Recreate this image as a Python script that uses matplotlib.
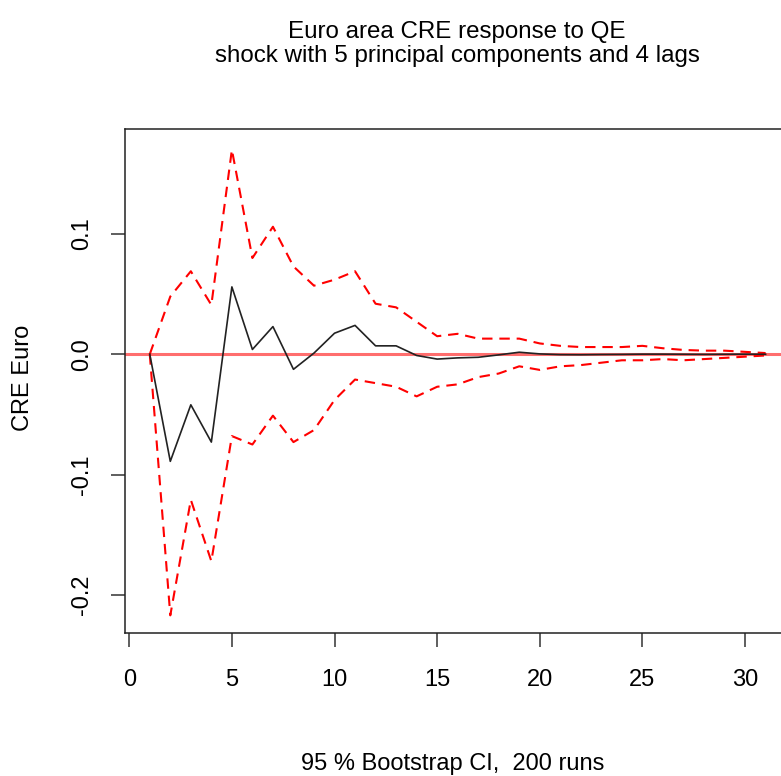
import numpy as np
import matplotlib.pyplot as plt

plt.rcParams['font.family'] = ['Liberation Sans', 'DejaVu Sans']

# impulse response horizon and bootstrap band
horizon = np.arange(1, 32)
irf = [0.0, -0.089, -0.042, -0.073, 0.056, 0.004, 0.023, -0.0125, 0.001, 0.0175,
       0.024, 0.007, 0.007, -0.001, -0.004, -0.003, -0.0025, -0.0005, 0.0017, 0.0003,
       -0.0003, -0.0004, -0.0002, -0.0001, 0.0001, 0.0001, 0.0, -0.0001, 0.0, 0.0001, 0.0]
upper = [0.0, 0.048, 0.069, 0.041, 0.170, 0.080, 0.106, 0.073, 0.057, 0.062,
         0.069, 0.042, 0.039, 0.027, 0.015, 0.017, 0.013, 0.013, 0.013, 0.009,
         0.007, 0.006, 0.006, 0.006, 0.007, 0.005, 0.0036, 0.003, 0.003, 0.002, 0.001]
lower = [0.0, -0.217, -0.121, -0.172, -0.068, -0.075, -0.051, -0.073, -0.063, -0.038,
         -0.021, -0.024, -0.027, -0.035, -0.027, -0.025, -0.019, -0.016, -0.010, -0.013,
         -0.010, -0.009, -0.007, -0.005, -0.005, -0.004, -0.005, -0.004, -0.003, -0.002, -0.001]
xticks = [0, 5, 10, 15, 20, 25, 30]
yticks = [-0.2, -0.1, 0.0, 0.1]

fig = plt.figure(figsize=(7.81, 7.76), dpi=100)
ax = fig.add_axes([0.1597, 0.1847, 0.86, 0.6487])

ax.axhline(0, color='#ff6e6e', lw=2.2, zorder=1)
ax.plot(horizon, upper, color='red', lw=1.5, dashes=(5, 3.3), zorder=2)
ax.plot(horizon, lower, color='red', lw=1.5, dashes=(5, 3.3), zorder=2)
ax.plot(horizon, irf, color='#222222', lw=1.2, zorder=3)

ax.set_xlim(-0.22, 32.5)
ax.set_ylim(-0.2314, 0.187)
ax.set_xticks(xticks)
ax.set_yticks(yticks)
ax.set_yticklabels(['-0.2', '-0.1', '0.0', '0.1'], rotation=90, va='center')
ax.tick_params(axis='both', direction='out', length=10, width=1.1,
               labelsize=17, color='#333333')
ax.tick_params(axis='x', pad=16)
ax.tick_params(axis='y', pad=13)
for sp in ax.spines.values():
    sp.set_linewidth(1.1)
    sp.set_color('#222222')

fig.text(457 / 781, 1 - 44 / 776,
         'Euro area CRE response to QE\nshock with 5 principal components and 4 lags',
         ha='center', va='center', fontsize=17.4, linespacing=1.15)
fig.text(23 / 781, 1 - 377.5 / 776, 'CRE Euro', rotation=90,
         ha='center', va='center', fontsize=17)
fig.text(452.7 / 781, 1 - 764 / 776, '95 % Bootstrap CI,  200 runs',
         ha='center', va='center', fontsize=17)

fig.savefig('out.png', dpi=100)
